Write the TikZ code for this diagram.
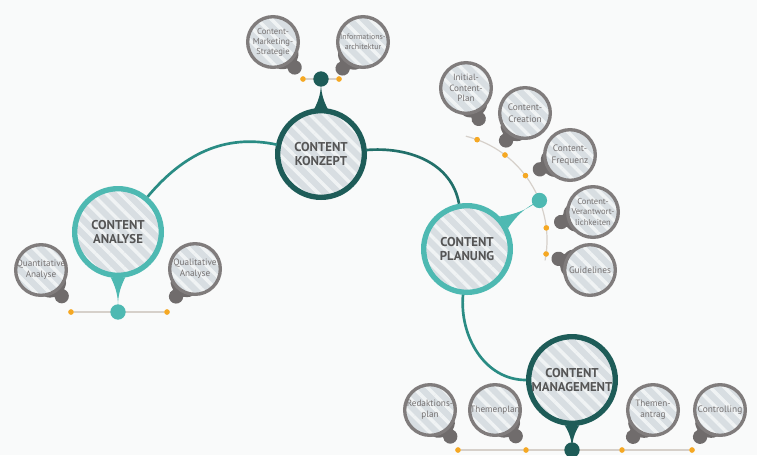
\documentclass[tikz,border=0pt]{standalone}
\usepackage{fontspec}
\setmainfont{PT Sans}
\usetikzlibrary{patterns.meta}
\definecolor{bgc}{RGB}{249,250,250}
\definecolor{darkteal}{RGB}{30,92,88}
\definecolor{lightteal}{RGB}{78,185,178}
\definecolor{conncol}{RGB}{42,140,132}
\definecolor{conndark}{RGB}{34,112,106}
\definecolor{subgray}{RGB}{128,124,124}
\definecolor{tailc}{RGB}{112,108,108}
\definecolor{fillc}{RGB}{216,222,226}
\definecolor{stripec}{RGB}{240,243,244}
\definecolor{orangec}{RGB}{245,168,35}
\definecolor{linegray}{RGB}{214,208,202}
\definecolor{maintext}{RGB}{85,85,85}
\definecolor{subtext}{RGB}{118,114,114}
\tikzset{
  stripefill/.style={preaction={fill=fillc}, pattern={Lines[angle=-45,distance=7.5pt,line width=2.6pt]}, pattern color=stripec},
  mainc/.style={circle, inner sep=0pt, minimum size=65pt, line width=4pt, stripefill},
  subc/.style={circle, inner sep=0pt, minimum size=38pt, line width=2.5pt, draw=subgray, stripefill},
  maintxt/.style={font=\bfseries\fontsize{9.6pt}{11pt}\selectfont, text=maintext, align=center, inner sep=0pt},
  subtxt/.style={text=subtext, align=center, inner sep=0pt},
  conn/.style={draw=conncol, line width=2pt},
  subline/.style={draw=linegray, line width=0.9pt},
  odot/.style={circle, fill=orangec, inner sep=0pt, minimum size=4pt},
  bigdot/.style={circle, inner sep=0pt, minimum size=11.5pt},
}
\newcommand\bulb[7]{%
  \begin{scope}[shift={(#2,-#3)}, rotate=#4]
    \fill[tailc] (42:24) .. controls (24:29) .. (29.5,6.3) arc[start angle=122, end angle=-122, radius=7.2] .. controls (-24:29) .. (-42:24) -- cycle;
  \end{scope}
  \node[subc, label={[subtxt, font=\fontsize{#5}{#6}\selectfont]center:{#7}}] (#1) at (#2,-#3) {};
}
\begin{document}
\begin{tikzpicture}[x=0.75pt, y=0.75pt]
\fill[bgc] (0,0) rectangle (757,-455);
\useasboundingbox (0,0) rectangle (757,-455);

% main circles
\node[mainc, draw=darkteal, label={[maintxt]center:{CONTENT\\KONZEPT}}] (konzept) at (321,-154) {};
\node[mainc, draw=lightteal, label={[maintxt]center:{CONTENT\\ANALYSE}}] (analyse) at (118,-232) {};
\node[mainc, draw=lightteal, label={[maintxt]center:{CONTENT\\PLANUNG}}] (planung) at (467,-249) {};
\node[mainc, draw=darkteal, label={[maintxt]center:{CONTENT\\MANAGEMENT}}] (mgmt) at (572,-380) {};

% connectors
\draw[conn] (analyse) to[out=50, in=168] (konzept);
\draw[conn, draw=conndark] (konzept) to[out=5, in=100] (planung);
\draw[conn] (planung) to[out=-95, in=180] (mgmt);

% dots
\node[odot] (k1) at (303,-79) {};
\node[odot] (k2) at (339,-79) {};
\node[odot] (a1) at (71,-312) {};
\node[odot] (a2) at (167,-312) {};
\node[odot] (m1) at (458,-450) {};
\node[odot] (m2) at (526,-450) {};
\node[odot] (m3) at (622,-450) {};
\node[odot] (m4) at (692,-450) {};
\coordinate (pc) at (440,-240);
\coordinate (ps) at ([shift={(pc)}]76:107);
\node[odot] (p1) at ([shift={(pc)}]69.7:107) {};
\node[odot] (p2) at ([shift={(pc)}]52.6:107) {};
\node[odot] (p3) at ([shift={(pc)}]37:107) {};
\node[odot] (p4) at ([shift={(pc)}]6.5:107) {};
\node[odot] (p5) at ([shift={(pc)}]-7.5:107) {};

% sub lines
\path[subline] (k1) -- (k2);
\path[subline] (a1) -- (a2);
\path[subline] (m1) -- (m4);
\path[subline] (ps) arc[start angle=76, end angle=-11, radius=107];

% orange dots above lines
\foreach \d in {k1,k2,a1,a2,m1,m2,m3,m4,p1,p2,p3,p4,p5}{\fill[orangec] (\d) circle (2.7);}

% pointers and big dots
\fill[darkteal] (konzept.81) to[bend left=14] (321,-80) to[bend left=14] (konzept.99) -- cycle;
\fill[lightteal] (analyse.-99) to[bend left=14] (118,-311) to[bend left=14] (analyse.-81) -- cycle;
\fill[lightteal] (planung.27) to[bend left=14] ([shift={(pc)}]21.7:107) to[bend left=14] (planung.45) -- cycle;
\fill[darkteal] (mgmt.-99) to[bend left=14] (572,-449) to[bend left=14] (mgmt.-81) -- cycle;
\node[bigdot, fill=darkteal] (kd) at (321,-79) {};
\node[bigdot, fill=lightteal] (ad) at (118,-312) {};
\node[bigdot, fill=darkteal] (md) at (572,-450) {};
\node[bigdot, fill=lightteal] (pd) at ([shift={(pc)}]21.7:107) {};

% sub items
\bulb{strat}{273}{42}{-50}{6.5pt}{7.6pt}{Content-\\Marketing-\\Strategie}
\bulb{info}{363}{42}{-128}{5.9pt}{7.4pt}{Informations-\\architektur}
\bulb{quant}{41}{270}{-52}{6.9pt}{8.4pt}{Quantitative\\Analyse}
\bulb{qual}{195}{269}{-125}{6.9pt}{8.4pt}{Qualitative\\Analyse}
\bulb{initial}{466}{88}{-68}{6.8pt}{8pt}{Initial-\\Content-\\Plan}
\bulb{creation}{525}{113}{-125}{7pt}{8.6pt}{Content-\\Creation}
\bulb{freq}{570}{155}{-155}{7pt}{8.6pt}{Content-\\Frequenz}
\bulb{verant}{593}{212}{-163}{6.4pt}{7.6pt}{Content-\\Verantwort-\\lichkeiten}
\bulb{guide}{590}{270}{160}{7pt}{8.4pt}{Guidelines}
\bulb{redak}{430}{410}{-53}{6.9pt}{8.4pt}{Redaktions-\\plan}
\bulb{tplan}{495}{410}{-52}{6.9pt}{8.4pt}{Themenplan}
\bulb{tantrag}{653}{410}{-127}{6.9pt}{8.4pt}{Themen-\\antrag}
\bulb{ctrl}{720}{410}{-127}{7pt}{8.4pt}{Controlling}
\end{tikzpicture}
\end{document}
